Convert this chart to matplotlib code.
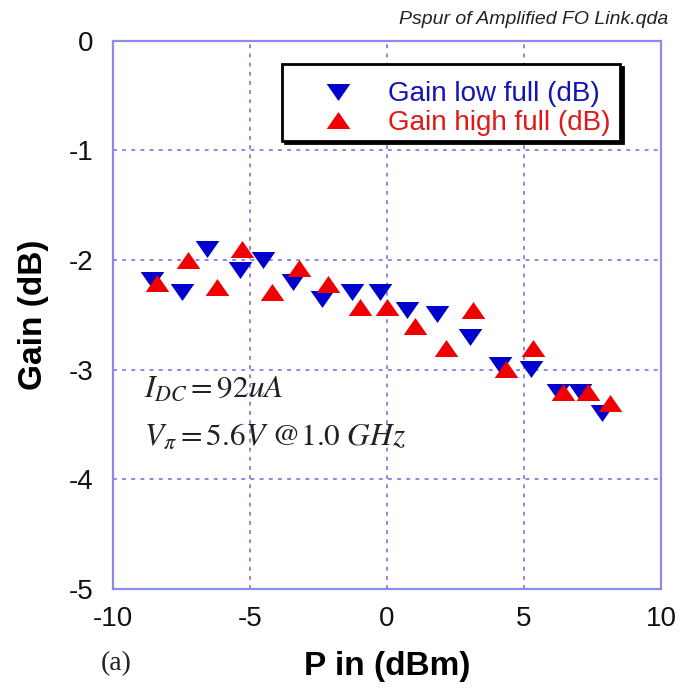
import matplotlib
matplotlib.use("Agg")
import matplotlib.pyplot as plt

plt.rcParams['font.family'] = ['Liberation Sans', 'DejaVu Sans']
plt.rcParams['mathtext.fontset'] = 'stix'

# Data
p_in_low = [-8.59, -7.49, -6.58, -5.36, -4.51, -3.42, -2.38, -1.29, -0.26,
            0.74, 1.81, 3.03, 4.12, 5.26, 6.25, 7.04, 7.84]
gain_low = [-2.18, -2.29, -1.90, -2.09, -2.00, -2.20, -2.36, -2.29, -2.29,
            -2.46, -2.49, -2.70, -2.96, -2.99, -3.20, -3.20, -3.40]
p_in_high = [-8.41, -7.27, -6.22, -5.28, -4.21, -3.20, -2.16, -0.99, -0.01,
             1.03, 2.14, 3.15, 4.33, 5.32, 6.43, 7.35, 8.14]
gain_high = [-2.21, -2.00, -2.25, -1.90, -2.29, -2.07, -2.22, -2.43, -2.43,
             -2.60, -2.80, -2.46, -2.99, -2.80, -3.20, -3.20, -3.30]
x_ticks = [-10, -5, 0, 5, 10]
y_ticks = [0, -1, -2, -3, -4, -5]
label_low = "Gain low full (dB)"
label_high = "Gain high full (dB)"

fig = plt.figure(figsize=(6.83, 6.90), dpi=100)
ax = fig.add_axes([0.1654, 0.1464, 0.8024, 0.7948])

down_tri = [(-1, 0.72), (1, 0.72), (0, -0.72)]
up_tri = [(-1, -0.72), (1, -0.72), (0, 0.72)]

ax.plot(p_in_low, gain_low, linestyle='none', marker=down_tri, markersize=17,
        markerfacecolor='#0000cc', markeredgewidth=0, color='#0000cc',
        label=label_low, zorder=3)
ax.plot(p_in_high, gain_high, linestyle='none', marker=up_tri, markersize=17,
        markerfacecolor='#f00000', markeredgewidth=0, color='#f00000',
        label=label_high, zorder=3)

ax.set_xlim(-10, 10)
ax.set_ylim(-5, 0)
ax.set_xticks(x_ticks)
ax.set_yticks(y_ticks)
ax.set_xticklabels([str(v) for v in x_ticks])
ax.set_yticklabels([str(v) for v in y_ticks])
ax.tick_params(axis='both', length=0, labelsize=20, colors='#111111')
ax.tick_params(axis='x', pad=12)
ax.tick_params(axis='y', pad=14)

ax.grid(True, color='#6a6ad8', linestyle=(0, (2.5, 3.5)), linewidth=1.1)
ax.set_axisbelow(True)
for s in ax.spines.values():
    s.set_color('#8c8ce8')
    s.set_linewidth(1.6)

ax.set_xlabel('P in (dBm)', fontsize=24, fontweight='bold', labelpad=14)
ax.set_ylabel('Gain (dB)', fontsize=24, fontweight='bold', labelpad=14)

leg = ax.legend(loc='upper left', bbox_to_anchor=(0.308, 0.813, 0.617, 0.144),
                mode='expand', fontsize=20, frameon=True, fancybox=False,
                shadow={'color': 'black', 'alpha': 1.0},
                title=' ', title_fontsize=8,
                borderpad=0.18, handlelength=3.68, handletextpad=-0.03,
                labelspacing=0.08, numpoints=1, borderaxespad=0,
                labelcolor=['#1414b4', '#e01818'])
leg.get_frame().set_edgecolor('black')
leg.get_frame().set_linewidth(2.0)

fig.text(0.978, 0.965, 'Pspur of Amplified FO Link.qda', ha='right',
         va='baseline', fontsize=14, style='italic', color='#222222')

ax.text(0.057, 0.351, r'$I_{DC}=92uA$', transform=ax.transAxes,
        fontsize=22.5, va='baseline', ha='left', color='#222222')
ax.text(0.057, 0.263, r'$V_{\pi}=5.6V\ @1.0\ GHz$', transform=ax.transAxes,
        fontsize=22.5, va='baseline', ha='left', color='#222222')

fig.text(0.17, 0.038, '(a)', fontsize=20, family=['Liberation Serif'],
         ha='center', va='center', color='#222222')

fig.savefig('out.png', dpi=100)
